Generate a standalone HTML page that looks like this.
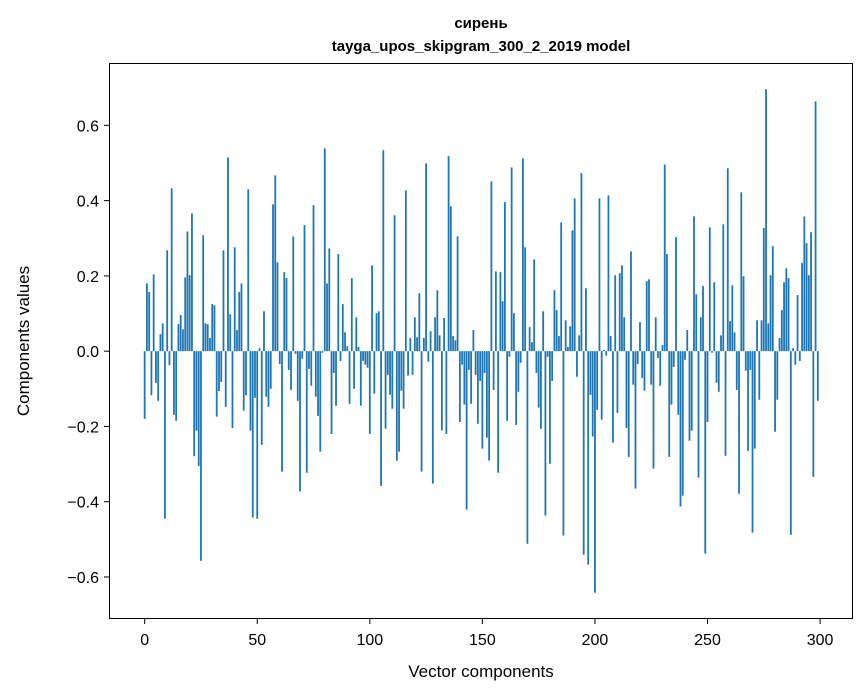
<!DOCTYPE html>
<html><head><meta charset="utf-8">
<style>
html,body{margin:0;padding:0;background:#fff;}
svg{display:block;font-family:"Liberation Sans","DejaVu Sans",sans-serif;}
</style></head>
<body>
<svg id="chart" width="867" height="696" viewBox="0 0 867 696" xmlns="http://www.w3.org/2000/svg">
<rect width="867" height="696" fill="#fff"/>
<text x="481" y="28" text-anchor="middle" font-size="15" font-weight="bold">сирень</text>
<text x="481" y="51" text-anchor="middle" font-size="15" font-weight="bold">tayga_upos_skipgram_300_2_2019 model</text>
<g id="bars"></g>
<g id="xticks"></g>
<g id="yticks"></g>
<rect x="109.5" y="63.5" width="743" height="555" fill="none" stroke="#000" stroke-width="1"/>
<text x="481" y="677" text-anchor="middle" font-size="17">Vector components</text>
<text transform="translate(29,341) rotate(-90)" text-anchor="middle" font-size="17">Components values</text>
</svg>
<script>
const values = [
-0.18,0.18,0.157,-0.117,0.204,-0.084,-0.132,0.045,0.074,-0.445,
0.268,-0.037,0.433,-0.169,-0.185,0.072,0.096,0.058,0.196,0.318,
0.202,0.366,-0.279,-0.211,-0.305,-0.557,0.308,0.074,0.072,0.035,
0.125,0.122,-0.174,-0.106,-0.082,0.268,-0.148,0.515,0.098,-0.204,
0.276,0.056,0.157,0.18,-0.158,-0.117,0.43,-0.211,-0.442,-0.124,
-0.445,0.008,-0.249,0.106,-0.121,-0.148,-0.1,0.39,0.467,0.236,
-0.034,-0.32,0.21,0.194,-0.05,-0.103,0.305,-0.007,-0.132,-0.373,
-0.02,0.335,-0.323,-0.047,-0.092,0.388,-0.121,-0.172,-0.267,-0.004,
0.539,0.18,0.273,-0.22,-0.058,-0.145,0.258,-0.026,0.125,0.05,
0.013,-0.14,0.194,-0.1,0.09,0.011,-0.145,-0.026,-0.036,-0.044,
-0.22,0.228,-0.113,0.101,0.106,-0.358,0.534,-0.206,-0.063,-0.116,
-0.153,0.361,-0.291,-0.267,-0.105,-0.153,0.427,-0.065,0.035,-0.063,
0.09,0.037,0.154,-0.32,0.035,0.499,-0.028,0.053,-0.352,0.09,
0.162,0.042,-0.211,0.088,-0.22,0.518,0.385,0.04,0.029,0.305,
-0.188,-0.036,-0.142,-0.421,-0.05,-0.14,0.056,-0.063,-0.193,-0.079,
-0.259,-0.058,-0.23,-0.291,0.451,-0.103,0.212,-0.323,0.21,0.133,
0.396,-0.185,-0.015,0.488,0.101,-0.196,-0.108,-0.031,0.512,0.276,
-0.512,0.064,0.024,0.244,-0.058,-0.15,-0.206,0.106,-0.437,-0.015,
-0.299,-0.079,0.162,0.109,0.04,0.342,-0.49,0.082,0.011,0.066,
0.321,0.406,-0.068,0.042,0.473,-0.541,0.167,-0.567,-0.116,-0.227,
-0.642,-0.156,0.406,-0.182,0.003,-0.012,0.414,0.04,-0.243,0.202,
-0.164,0.207,0.228,0.09,-0.204,-0.281,0.265,-0.089,-0.365,-0.034,
0.077,-0.071,-0.105,0.186,0.191,-0.089,-0.312,0.09,-0.018,-0.092,
0.016,0.496,0.258,-0.281,-0.142,-0.042,0.303,-0.169,-0.413,-0.384,
-0.023,0.056,-0.238,-0.211,0.358,0.151,-0.336,0.09,0.173,-0.538,
-0.188,0.329,-0.004,0.183,-0.084,-0.108,0.042,0.337,-0.278,0.486,
0.08,0.175,0.05,-0.103,-0.379,0.422,0.199,-0.052,-0.265,-0.05,
-0.482,-0.259,0.082,-0.129,0.082,0.327,0.696,0.074,0.202,0.279,
-0.214,-0.129,0.035,0.109,0.183,0.22,0.194,-0.488,0.008,-0.036,
0.149,-0.026,0.234,0.358,0.287,0.202,0.316,-0.334,0.664,-0.132
];
const xTickValues = [0,50,100,150,200,250,300];
const yTickValues = [-0.6,-0.4,-0.2,0.0,0.2,0.4,0.6];

const NS = "http://www.w3.org/2000/svg";
const L=110, R=852.5, T=64, B=618;
const xMin=-15.4, xMax=314.4, yMin=-0.709, yMax=0.763;
function xs(v){return L+(v-xMin)/(xMax-xMin)*(R-L);}
function ys(v){return B-(v-yMin)/(yMax-yMin)*(B-T);}
const bw = (xs(0.8)-xs(0));

const gb=document.getElementById('bars');
values.forEach((v,i)=>{
  const r=document.createElementNS(NS,'rect');
  const y0=ys(0), y1=ys(v);
  r.setAttribute('x',xs(i)-bw/2);
  r.setAttribute('y',Math.min(y0,y1));
  r.setAttribute('width',bw);
  r.setAttribute('height',Math.abs(y1-y0));
  r.setAttribute('fill','#1f77b4');
  
  
  gb.appendChild(r);
});
const gx=document.getElementById('xticks');
xTickValues.forEach(v=>{
  const x=xs(v);
  const l=document.createElementNS(NS,'line');
  l.setAttribute('x1',x);l.setAttribute('x2',x);l.setAttribute('y1',619);l.setAttribute('y2',624);
  l.setAttribute('stroke','#000');
  
  
  gx.appendChild(l);
  const t=document.createElementNS(NS,'text');
  t.setAttribute('x',x);t.setAttribute('y',645);t.setAttribute('text-anchor','middle');t.setAttribute('font-size','16');
  t.textContent=String(v);
  
  
  gx.appendChild(t);
});
const gy=document.getElementById('yticks');
yTickValues.forEach(v=>{
  const y=ys(v);
  const l=document.createElementNS(NS,'line');
  l.setAttribute('x1',104);l.setAttribute('x2',109.5);l.setAttribute('y1',y);l.setAttribute('y2',y);
  l.setAttribute('stroke','#000');
  
  
  gy.appendChild(l);
  const t=document.createElementNS(NS,'text');
  t.setAttribute('x',99);t.setAttribute('y',y+6);t.setAttribute('text-anchor','end');t.setAttribute('font-size','16');
  t.textContent=(v<0?'\u2212':'')+Math.abs(v).toFixed(1);
  
  
  gy.appendChild(t);
});
</script>
</body></html>
